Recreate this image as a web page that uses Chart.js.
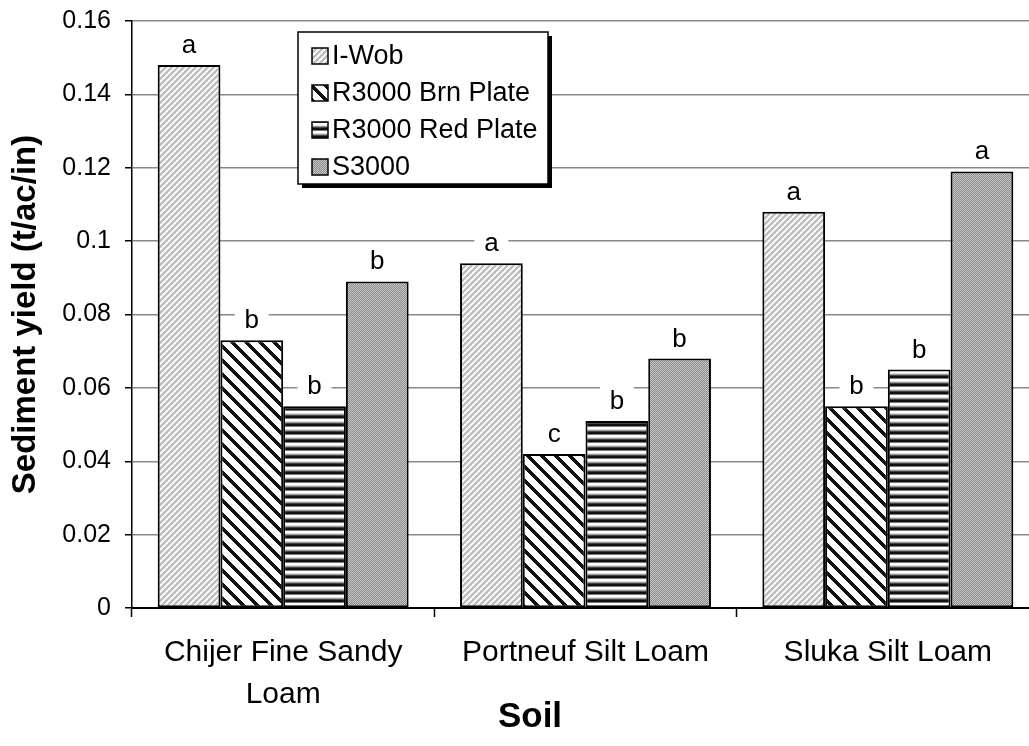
<!DOCTYPE html>
<html>
<head>
<meta charset="utf-8">
<script src="https://cdn.jsdelivr.net/npm/chart.js@4"></script>
<style>
  html, body { margin: 0; padding: 0; background: #fff; overflow: hidden; }
  #wrap { width: 1045px; height: 746px; }
</style>
</head>
<body>
<div id="wrap"><canvas id="soil-chart" width="1045" height="746"></canvas></div>
<script>
// data
const soils = [["Chijer Fine Sandy", "Loam"], "Portneuf Silt Loam", "Sluka Silt Loam"];
const treatments = ["I-Wob", "R3000 Brn Plate", "R3000 Red Plate", "S3000"];
const iWob = [0.148, 0.094, 0.108];
const brnPlate = [0.073, 0.042, 0.055];
const redPlate = [0.055, 0.051, 0.065];
const s3000 = [0.089, 0.068, 0.119];
// significance letters, one list per treatment
const iWobLetters = ["a", "a", "a"];
const brnLetters = ["b", "c", "b"];
const redLetters = ["b", "b", "b"];
const s3000Letters = ["b", "b", "a"];
const yTickLabels = ["0", "0.02", "0.04", "0.06", "0.08", "0.1", "0.12", "0.14", "0.16"];

const FONT = "'Liberation Sans', Arial, sans-serif";

// little helper to build a repeating fill out of single pixels
function makePattern(w, h, pick) {
  const c = document.createElement("canvas");
  c.width = w;
  c.height = h;
  const g = c.getContext("2d");
  for (let y = 0; y < h; y++) {
    for (let x = 0; x < w; x++) {
      g.fillStyle = pick(x, y);
      g.fillRect(x, y, 1, 1);
    }
  }
  return g.createPattern(c, "repeat");
}

// fine light "/" stripes
const iWobFill = makePattern(6, 6, (x, y) => ((x + y) % 6 < 3 ? "#f4f4f4" : "#bdbdbd"));
// heavy black "\" stripes
const brnFill = makePattern(14, 14, (x, y) => ((x - y + 14) % 14 < 5 ? "#111" : "#fff"));
// horizontal bands
const redBands = ["#111", "#111", "#777", "#fff", "#fff", "#e0e0e0", "#9a9a9a", "#444"];
const redFill = makePattern(4, 8, (x, y) => redBands[y]);
// dense grey checker
const s3000Fill = makePattern(2, 2, (x, y) => ((x + y) % 2 ? "#8a8a8a" : "#c8c8c8"));

const fills = [iWobFill, brnFill, redFill, s3000Fill];
const letters = [iWobLetters, brnLetters, redLetters, s3000Letters];

// letters above the bars; white patch hides the grid line behind them
const letterPlugin = {
  id: "letters",
  beforeDatasetsDraw(chart) {
    const ctx = chart.ctx;
    ctx.save();
    ctx.fillStyle = "#fff";
    chart.data.datasets.forEach((ds, i) => {
      chart.getDatasetMeta(i).data.forEach((bar) => {
        ctx.fillRect(bar.x - 17, bar.y - 37, 34, 27);
      });
    });
    ctx.restore();
  },
  afterDatasetsDraw(chart) {
    const ctx = chart.ctx;
    ctx.save();
    ctx.fillStyle = "#000";
    ctx.font = "26px " + FONT;
    ctx.textAlign = "center";
    ctx.textBaseline = "alphabetic";
    chart.data.datasets.forEach((ds, i) => {
      chart.getDatasetMeta(i).data.forEach((bar, j) => {
        ctx.fillText(letters[i][j], bar.x, bar.y - 12);
      });
    });
    ctx.restore();
  },
};

// boxed legend with a drop shadow, sitting inside the plot
const boxLegend = {
  id: "boxLegend",
  afterDraw(chart) {
    const ctx = chart.ctx;
    const area = chart.chartArea;
    const x = area.left + 166;
    const y = area.top + 11;
    const w = 250;
    const h = 152;
    ctx.save();
    ctx.fillStyle = "#000";
    ctx.fillRect(x + 4, y + 4, w, h);
    ctx.fillStyle = "#fff";
    ctx.fillRect(x, y, w, h);
    ctx.strokeStyle = "#000";
    ctx.lineWidth = 1.5;
    ctx.strokeRect(x, y, w, h);
    ctx.font = "27px " + FONT;
    ctx.textBaseline = "middle";
    chart.data.datasets.forEach((ds, i) => {
      const cy = y + 24 + i * 37;
      ctx.fillStyle = ds.backgroundColor;
      ctx.fillRect(x + 14, cy - 8, 16, 16);
      ctx.lineWidth = 1.5;
      ctx.strokeRect(x + 14, cy - 8, 16, 16);
      ctx.fillStyle = "#000";
      ctx.fillText(ds.label, x + 34, cy + 1);
    });
    ctx.restore();
  },
};

// the x title sits a bit left of the plot centre in the reference
const soilTitle = {
  id: "soilTitle",
  afterDraw(chart) {
    const ctx = chart.ctx;
    ctx.save();
    ctx.fillStyle = "#000";
    ctx.font = "bold 35px " + FONT;
    ctx.textAlign = "center";
    ctx.textBaseline = "middle";
    ctx.fillText("Soil", 530, 717);
    ctx.restore();
  },
};

const seriesValues = [iWob, brnPlate, redPlate, s3000];

const soilChart = new Chart(document.getElementById("soil-chart"), {
  type: "bar",
  data: {
    labels: soils,
    datasets: treatments.map((name, i) => ({
      label: name,
      data: seriesValues[i],
      backgroundColor: fills[i],
      borderColor: "#000",
      borderWidth: 2,
      borderSkipped: false,
      categoryPercentage: 0.83,
      barPercentage: 1,
    })),
  },
  options: {
    responsive: false,
    animation: false,
    layout: {
      padding: { top: 21, right: 6, left: 0, bottom: 0 },
    },
    plugins: {
      legend: { display: false },
      tooltip: { enabled: false },
    },
    scales: {
      x: {
        grid: {
          drawOnChartArea: false,
          tickLength: 9,
          tickColor: "#000",
          tickWidth: 1.5,
        },
        border: { color: "#000", width: 2 },
        ticks: {
          color: "#000",
          font: { family: FONT, size: 30, lineHeight: 1.4 },
          padding: 15,
          maxRotation: 0,
        },
        afterFit(scale) {
          scale.height = 138;
        },
      },
      y: {
        min: 0,
        max: 0.16,
        grid: {
          color: "#888",
          lineWidth: 1.5,
          tickLength: 7,
          tickColor: "#000",
          tickWidth: 1.5,
        },
        border: { color: "#000", width: 1.5 },
        ticks: {
          stepSize: 0.02,
          color: "#000",
          font: { family: FONT, size: 25 },
          padding: 14,
          callback: (value, index) => yTickLabels[index],
        },
        title: {
          display: true,
          text: "Sediment yield (t/ac/in)",
          color: "#000",
          font: { family: FONT, size: 33, weight: "bold" },
          padding: { top: 6, bottom: 0 },
        },
        afterFit(scale) {
          scale.width = 132;
          scale.paddingTop = 0;
          scale.paddingBottom = 0;
        },
      },
    },
  },
  plugins: [letterPlugin, boxLegend, soilTitle],
});
</script>
</body>
</html>
